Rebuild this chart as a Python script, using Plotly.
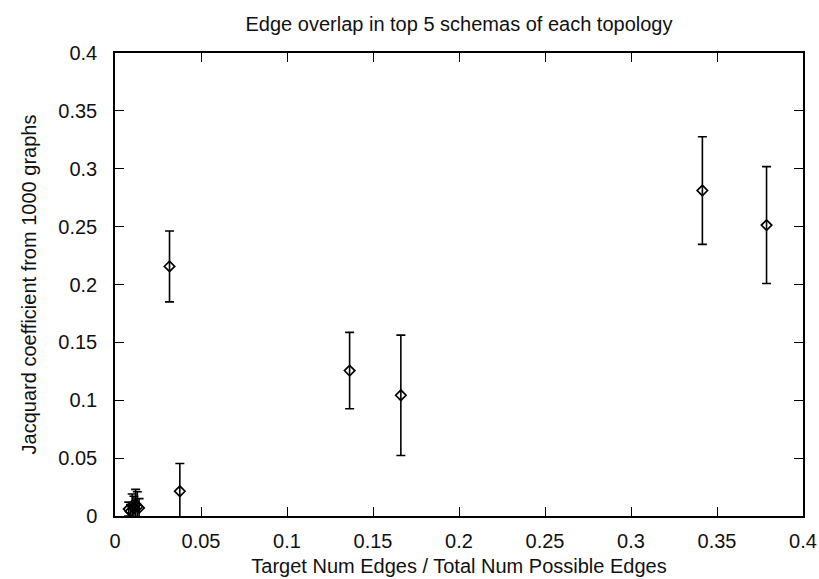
import plotly.graph_objects as go

# Data
edge_ratio = [0.0080, 0.0090, 0.0100, 0.0110, 0.0120, 0.0130, 0.0140,
              0.0317, 0.0377, 0.1364, 0.1662, 0.3415, 0.3788]
jaccard = [0.0060, 0.0040, 0.0090, 0.0070, 0.0100, 0.0080, 0.0070,
           0.2156, 0.0214, 0.1256, 0.1043, 0.2812, 0.2513]
jaccard_err = [0.0060, 0.0060, 0.0100, 0.0100, 0.0130, 0.0130, 0.0080,
               0.0306, 0.0240, 0.0330, 0.0520, 0.0465, 0.0505]

x_ticks = [0, 0.05, 0.1, 0.15, 0.2, 0.25, 0.3, 0.35, 0.4]
x_tick_labels = ["0", "0.05", "0.1", "0.15", "0.2", "0.25", "0.3", "0.35", "0.4"]
y_ticks = [0, 0.05, 0.1, 0.15, 0.2, 0.25, 0.3, 0.35, 0.4]
y_tick_labels = ["0", "0.05", "0.1", "0.15", "0.2", "0.25", "0.3", "0.35", "0.4"]

title_text = "Edge overlap in top 5 schemas of each topology"
x_title = "Target Num Edges / Total Num Possible Edges"
y_title = "Jacquard coefficient from 1000 graphs"

FONT = "Liberation Sans, Arial, sans-serif"
FS = 20

fig = go.Figure()
fig.add_trace(go.Scatter(
    x=edge_ratio, y=jaccard, mode="markers",
    marker=dict(symbol="diamond-open", size=8, color="black",
                line=dict(color="black", width=1.7)),
    error_y=dict(type="data", array=jaccard_err, visible=True,
                 color="black", thickness=1.6, width=4.5),
    showlegend=False,
))

axis_common = dict(
    range=[0, 0.4], showgrid=False, zeroline=False, automargin=False,
    showline=True, linecolor="black", linewidth=1.5, mirror="ticks",
    ticks="inside", ticklen=9, tickwidth=1, tickcolor="black",
    tickfont=dict(family=FONT, size=FS, color="#111111"),
)

fig.update_xaxes(**axis_common, tickvals=x_ticks, ticktext=x_tick_labels,
                 ticklabelstandoff=6,
                 title=dict(text=x_title, font=dict(family=FONT, size=FS, color="#111111"),
                            standoff=8))
fig.update_yaxes(**axis_common, tickvals=y_ticks, ticktext=y_tick_labels,
                 ticklabelstandoff=12,
                 title=dict(text=y_title, font=dict(family=FONT, size=FS, color="#111111"),
                            standoff=16))

fig.update_layout(
    width=819, height=579,
    margin=dict(l=115, r=16, t=53, b=63),
    plot_bgcolor="white", paper_bgcolor="white",
    title=dict(text=title_text, x=(115 + 803) / 2 / 819, xanchor="center",
               y=1 - 24 / 579, yanchor="middle", yref="container",
               font=dict(family=FONT, size=FS, color="#111111")),
)

fig.write_html("out.html")
